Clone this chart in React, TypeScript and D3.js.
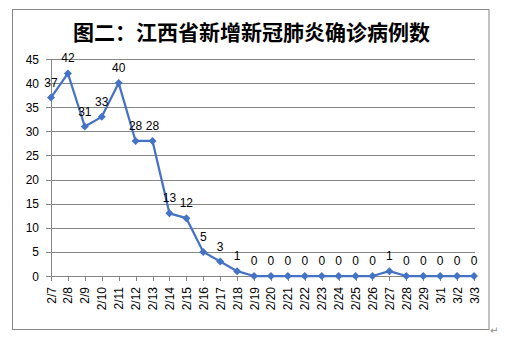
import React from "react";
import * as d3 from "d3";

const categories = ["2/7","2/8","2/9","2/10","2/11","2/12","2/13","2/14","2/15","2/16","2/17","2/18","2/19","2/20","2/21","2/22","2/23","2/24","2/25","2/26","2/27","2/28","2/29","3/1","3/2","3/3"];
const values = [37,42,31,33,40,28,28,13,12,5,3,1,0,0,0,0,0,0,0,0,1,0,0,0,0,0];
const yTicks = [0,5,10,15,20,25,30,35,40,45];
const title = "图二：江西省新增新冠肺炎确诊病例数";

export default function App() {
  const W = 508, H = 352;
  const left = 51, right = 474, top = 59, bottom = 276;
  const x = d3.scalePoint<string>().domain(categories).range([left, right]);
  const y = d3.scaleLinear().domain([0, 45]).range([bottom, top]);
  const line = d3.line<number>().x((_, i) => x(categories[i])!).y(d => y(d));
  const font = "'Liberation Sans', 'DejaVu Sans', sans-serif";
  const grid = "#868686";
  const blue = "#4472C4";
  return (
    <svg width={W} height={H} style={{ position: "absolute", left: 0, top: 0 }}>
      <rect x={0} y={0} width={W} height={H} fill="#fff" />
      <rect x={12.5} y={9.5} width={476.5} height={320} fill="#fff" stroke={grid} strokeWidth={1} />
      <text x={251.5} y={40} textAnchor="middle" fontSize={21} fontWeight="bold"
        fontFamily="'Noto Sans CJK SC', sans-serif" fill="#000">{title}</text>
      {yTicks.map(t => (
        <g key={t}>
          {t > 0 && <line x1={left} x2={right + 1} y1={Math.round(y(t)) + 0.5} y2={Math.round(y(t)) + 0.5} stroke={grid} strokeWidth={1} />}
          <line x1={left - 5} x2={left} y1={Math.round(y(t)) + 0.5} y2={Math.round(y(t)) + 0.5} stroke={grid} />
          <text x={39} y={y(t) + 4.5} textAnchor="end" fontSize={12} fontFamily={font} fill="#000">{t}</text>
        </g>
      ))}
      <line x1={left + 0.5} x2={left + 0.5} y1={top} y2={bottom} stroke={grid} />
      <line x1={left} x2={right + 1} y1={bottom + 0.5} y2={bottom + 0.5} stroke={grid} />
      {categories.map(c => (
        <g key={c}>
          <line x1={Math.round(x(c)!) + 0.5} x2={Math.round(x(c)!) + 0.5} y1={bottom} y2={bottom + 5} stroke={grid} />
          <text transform={`translate(${x(c)! + 4.5},${287}) rotate(-90)`} textAnchor="end" fontSize={12}
            fontFamily={font} fill="#000">{c}</text>
        </g>
      ))}
      <path d={line(values)!} fill="none" stroke={blue} strokeWidth={2.25} strokeLinejoin="round" />
      {values.map((v, i) => {
        const cx = x(categories[i])!, cy = y(v);
        return (
          <g key={i}>
            <path d={`M${cx},${cy - 4}L${cx + 4},${cy}L${cx},${cy + 4}L${cx - 4},${cy}Z`} fill={blue} />
            <text x={cx} y={cy - 11} textAnchor="middle" fontSize={12} fontFamily={font} fill="#000">{v}</text>
          </g>
        );
      })}
      <text x={490} y={334} fontSize={10} fill="#888" fontFamily="'DejaVu Sans', sans-serif">↵</text>
    </svg>
  );
}
